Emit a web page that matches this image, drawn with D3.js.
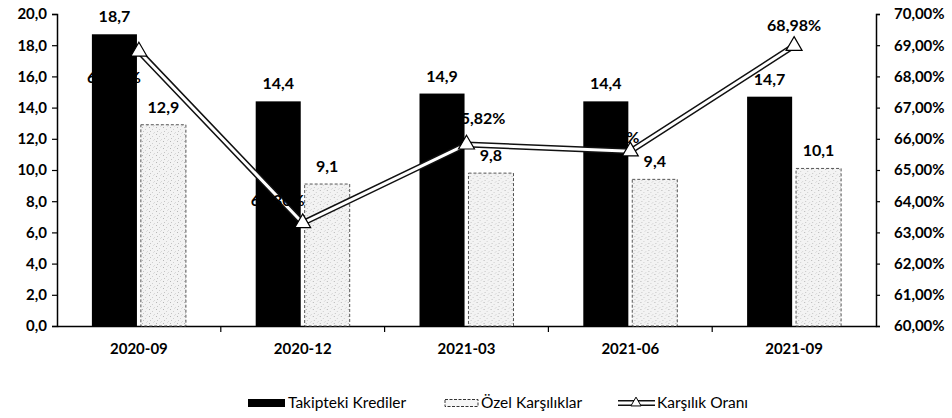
<!DOCTYPE html>
<html>
<head>
<meta charset="utf-8">
<script src="https://cdn.jsdelivr.net/npm/d3@7"></script>
<style>
  html, body { margin: 0; padding: 0; background: #fff; }
  svg { display: block; }
  text { font-family: Lato, "Open Sans", sans-serif; fill: #000; }
</style>
</head>
<body>
<svg id="chart" width="952" height="418"></svg>
<script>
// ---- data ----
const categories = ["2020-09", "2020-12", "2021-03", "2021-06", "2021-09"];
const takipteki = [18.7, 14.4, 14.9, 14.4, 14.7];
const ozel = [12.9, 9.1, 9.8, 9.4, 10.1];
const oran = [68.80, 63.30, 65.82, 65.60, 68.98];
const leftTicks = [0, 2, 4, 6, 8, 10, 12, 14, 16, 18, 20];
const rightTicks = [60, 61, 62, 63, 64, 65, 66, 67, 68, 69, 70];
const seriesNames = ["Takipteki Krediler", "Özel Karşılıklar", "Karşılık Oranı"];

// ---- layout ----
const svg = d3.select("#chart");
const plot = { left: 57, right: 876, top: 14, bottom: 326 };
const fmt1 = v => d3.format(".1f")(v).replace(".", ",");
const fmtPct = v => d3.format(".2f")(v).replace(".", ",") + "%";

// pattern for the speckled white bars
const defs = svg.append("defs");
const pat = defs.append("pattern").attr("id", "speck").attr("patternUnits", "userSpaceOnUse")
  .attr("width", 7).attr("height", 7);
pat.append("rect").attr("width", 7).attr("height", 7).attr("fill", "#f3f3f3");
[[1,1,"#b5b5b5"],[4,3,"#cfcfcf"],[2,5,"#c4c4c4"],[6,6,"#d8d8d8"],[5,0,"#dddddd"]].forEach(([x,y,c]) =>
  pat.append("rect").attr("x", x).attr("y", y).attr("width", 1).attr("height", 1).attr("fill", c));

const x0 = d3.scaleBand().domain(categories).range([plot.left, plot.right]).padding(0);
const bw = x0.bandwidth();
const x1 = d3.scaleBand().domain([0, 1]).range([bw / 2 - 47, bw / 2 + 47]).paddingInner(0.08);
const yL = d3.scaleLinear().domain([0, 20]).range([plot.bottom, plot.top]);
const yR = d3.scaleLinear().domain([60, 70]).range([plot.bottom, plot.top]);

// ---- axes ----
const leftAxis = d3.axisLeft(yL).tickValues(leftTicks).tickSize(5).tickPadding(5).tickFormat(fmt1);
const gL = svg.append("g").attr("transform", `translate(${plot.left},0)`).call(leftAxis);
const rightAxis = d3.axisRight(yR).tickValues(rightTicks).tickSize(4).tickPadding(14)
  .tickFormat(v => d3.format(".2f")(v).replace(".", ",") + "%");
const gR = svg.append("g").attr("transform", `translate(${plot.right},0)`).call(rightAxis);
[gL, gR].forEach(g => {
  g.select(".domain").attr("stroke", "#000").attr("stroke-width", 1.5);
  g.selectAll(".tick line").attr("stroke", "#000").attr("stroke-width", 1.2);
  g.selectAll("text").style("font-size", "15px").style("font-weight", "bold")
    .style("font-family", "Lato, sans-serif").attr("fill", "#000");
});

// bottom axis: line + ticks at category boundaries
const bottomAxis = d3.axisBottom(x0).tickSize(0).tickPadding(17);
const gB = svg.append("g").attr("transform", `translate(0,${plot.bottom})`).call(bottomAxis);
gB.select(".domain").attr("stroke", "#000").attr("stroke-width", 1.5);
gB.selectAll("text").style("font-size", "15px").style("font-weight", "bold")
  .style("font-family", "Lato, sans-serif").attr("fill", "#000");
categories.slice(1).forEach(c => {
  gB.append("line").attr("x1", x0(c)).attr("x2", x0(c)).attr("y1", 0).attr("y2", 6)
    .attr("stroke", "#000").attr("stroke-width", 1.2);
});

// ---- bars ----
const groups = svg.append("g").selectAll("g").data(categories).join("g")
  .attr("transform", c => `translate(${x0(c)},0)`);

groups.append("rect")
  .attr("x", x1(0)).attr("width", x1.bandwidth())
  .attr("y", (c, i) => yL(takipteki[i])).attr("height", (c, i) => yL(0) - yL(takipteki[i]))
  .attr("fill", "#000");

groups.append("rect")
  .attr("x", x1(1)).attr("width", x1.bandwidth())
  .attr("y", (c, i) => yL(ozel[i])).attr("height", (c, i) => yL(0) - yL(ozel[i]))
  .attr("fill", "url(#speck)").attr("stroke", "#555").attr("stroke-width", 1)
  .attr("stroke-dasharray", "3,2");

groups.append("text")
  .attr("x", x1(0) + x1.bandwidth() / 2).attr("y", (c, i) => yL(takipteki[i]) - 12)
  .attr("text-anchor", "middle").style("font-size", "16px").style("font-weight", "bold")
  .text((c, i) => fmt1(takipteki[i]));

groups.append("text")
  .attr("x", x1(1) + x1.bandwidth() / 2).attr("y", (c, i) => yL(ozel[i]) - 12)
  .attr("text-anchor", "middle").style("font-size", "16px").style("font-weight", "bold")
  .text((c, i) => fmt1(ozel[i]));

// ---- line ----
const pts = categories.map((c, i) => [x0(c) + bw / 2, yR(oran[i])]);
const line = d3.line();
svg.append("path").attr("d", line(pts)).attr("fill", "none")
  .attr("stroke", "#111").attr("stroke-width", 6).attr("stroke-linejoin", "round");
svg.append("path").attr("d", line(pts)).attr("fill", "none")
  .attr("stroke", "#fff").attr("stroke-width", 3).attr("stroke-linejoin", "round");
const tri = d3.symbol().type(d3.symbolTriangle).size(110);
svg.append("g").selectAll("path").data(pts).join("path")
  .attr("d", tri).attr("transform", d => `translate(${d[0]},${d[1]})`)
  .attr("fill", "#fff").attr("stroke", "#000").attr("stroke-width", 1.2);

// line labels
(function () {
  const dx = [-25, -25, 12, -18, 0];
  const dy = [27, -22, -25, -13, -20];
  svg.append("g").selectAll("text").data(pts).join("text")
    .attr("x", (d, i) => d[0] + dx[i]).attr("y", (d, i) => d[1] + dy[i] + 5)
    .attr("text-anchor", "middle").style("font-size", "16px").style("font-weight", "bold")
    .text((d, i) => fmtPct(oran[i]));
})();

// ---- legend ----
const lg = svg.append("g");
const ly = 403;
// item 1
lg.append("rect").attr("x", 248).attr("y", ly - 4).attr("width", 37).attr("height", 8).attr("fill", "#000");
lg.append("text").attr("x", 288).attr("y", ly + 5).style("font-size", "15.5px").text(seriesNames[0]);
// item 2
lg.append("rect").attr("x", 445).attr("y", ly - 3.5).attr("width", 33).attr("height", 7)
  .attr("fill", "#f6f6f6").attr("stroke", "#333").attr("stroke-width", 1).attr("stroke-dasharray", "3,1.5");
lg.append("text").attr("x", 481).attr("y", ly + 5).style("font-size", "15.5px").text(seriesNames[1]);
// item 3
lg.append("line").attr("x1", 618).attr("x2", 655).attr("y1", ly).attr("y2", ly)
  .attr("stroke", "#111").attr("stroke-width", 6);
lg.append("line").attr("x1", 618).attr("x2", 655).attr("y1", ly).attr("y2", ly)
  .attr("stroke", "#fff").attr("stroke-width", 3);
lg.append("path").attr("d", d3.symbol().type(d3.symbolTriangle).size(45))
  .attr("transform", `translate(636,${ly})`).attr("fill", "#fff").attr("stroke", "#000").attr("stroke-width", 1);
lg.append("text").attr("x", 657).attr("y", ly + 5).style("font-size", "15.5px").text(seriesNames[2]);
</script>
</body>
</html>
